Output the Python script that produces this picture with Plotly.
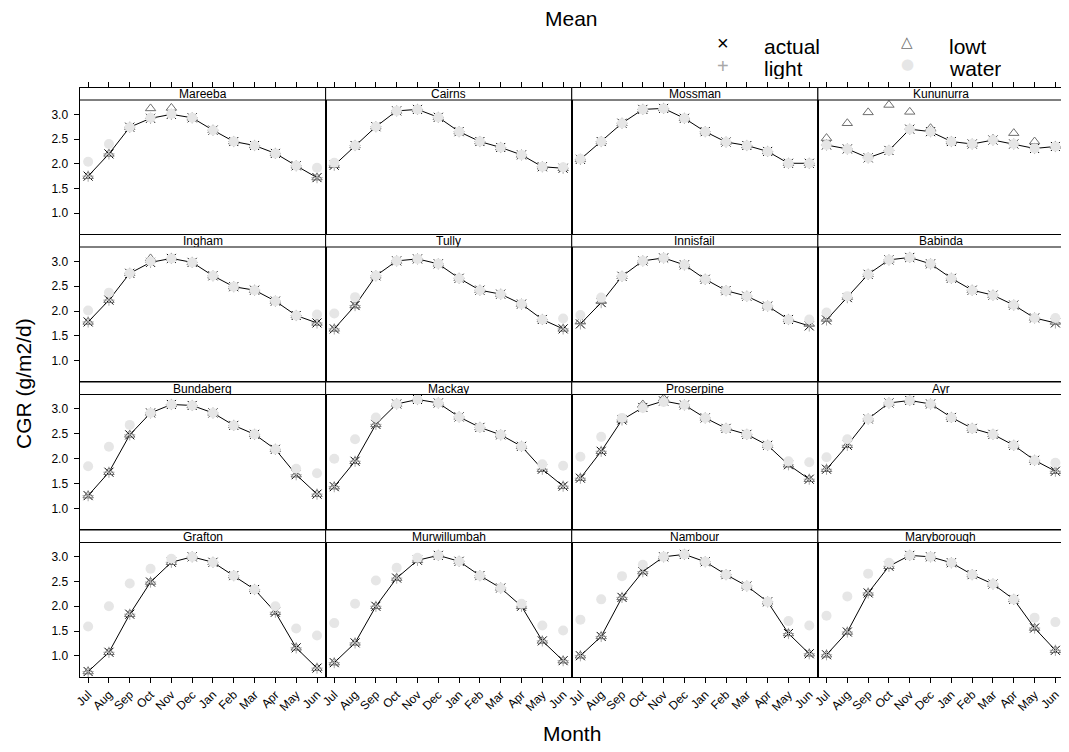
import plotly.graph_objects as go

# ---------------- data ----------------
months = ["Jul", "Aug", "Sep", "Oct", "Nov", "Dec", "Jan", "Feb", "Mar", "Apr", "May", "Jun"]

sites = ["Mareeba", "Cairns", "Mossman", "Kununurra",
         "Ingham", "Tully", "Innisfail", "Babinda",
         "Bundaberg", "Mackay", "Proserpine", "Ayr",
         "Grafton", "Murwillumbah", "Nambour", "Maryborough"]

actual = [
    [1.75, 2.20, 2.74, 2.92, 3.00, 2.93, 2.68, 2.45, 2.37, 2.21, 1.96, 1.72],  # Mareeba
    [1.97, 2.37, 2.75, 3.07, 3.10, 2.94, 2.65, 2.45, 2.33, 2.18, 1.94, 1.91],  # Cairns
    [2.09, 2.45, 2.82, 3.10, 3.12, 2.92, 2.65, 2.44, 2.37, 2.25, 2.01, 2.01],  # Mossman
    [2.38, 2.30, 2.12, 2.27, 2.70, 2.65, 2.45, 2.40, 2.48, 2.40, 2.31, 2.35],  # Kununurra
    [1.78, 2.22, 2.76, 2.98, 3.06, 2.98, 2.71, 2.49, 2.42, 2.20, 1.91, 1.76],  # Ingham
    [1.64, 2.11, 2.71, 3.01, 3.05, 2.95, 2.66, 2.42, 2.34, 2.14, 1.83, 1.64],  # Tully
    [1.74, 2.17, 2.70, 3.01, 3.07, 2.93, 2.64, 2.41, 2.30, 2.10, 1.83, 1.70],  # Innisfail
    [1.82, 2.27, 2.74, 3.03, 3.08, 2.95, 2.66, 2.42, 2.32, 2.12, 1.86, 1.76],  # Babinda
    [1.26, 1.73, 2.48, 2.92, 3.09, 3.07, 2.92, 2.67, 2.49, 2.19, 1.68, 1.29],  # Bundaberg
    [1.44, 1.95, 2.69, 3.10, 3.19, 3.12, 2.84, 2.63, 2.48, 2.25, 1.79, 1.45],  # Mackay
    [1.61, 2.15, 2.78, 3.03, 3.16, 3.08, 2.82, 2.61, 2.49, 2.27, 1.88, 1.59],  # Proserpine
    [1.79, 2.27, 2.80, 3.12, 3.17, 3.10, 2.83, 2.61, 2.49, 2.27, 1.97, 1.75],  # Ayr
    [0.68, 1.07, 1.84, 2.49, 2.89, 3.00, 2.89, 2.62, 2.34, 1.88, 1.16, 0.75],  # Grafton
    [0.86, 1.26, 2.00, 2.57, 2.93, 3.03, 2.91, 2.62, 2.37, 2.00, 1.30, 0.90],  # Murwillumbah
    [1.00, 1.39, 2.18, 2.70, 3.00, 3.05, 2.90, 2.64, 2.41, 2.09, 1.45, 1.04],  # Nambour
    [1.02, 1.48, 2.27, 2.81, 3.03, 3.00, 2.88, 2.64, 2.45, 2.14, 1.56, 1.11],  # Maryborough
]

light = [
    [1.75, 2.20, 2.74, 2.92, 3.00, 2.93, 2.68, 2.45, 2.37, 2.21, 1.96, 1.72],
    [1.97, 2.37, 2.75, 3.07, 3.10, 2.94, 2.65, 2.45, 2.33, 2.18, 1.94, 1.91],
    [2.09, 2.45, 2.82, 3.10, 3.12, 2.92, 2.65, 2.44, 2.37, 2.25, 2.01, 2.01],
    [2.38, 2.30, 2.12, 2.27, 2.70, 2.65, 2.45, 2.40, 2.48, 2.40, 2.31, 2.35],
    [1.78, 2.22, 2.76, 2.98, 3.06, 2.98, 2.71, 2.49, 2.42, 2.20, 1.91, 1.76],
    [1.64, 2.11, 2.71, 3.01, 3.05, 2.95, 2.66, 2.42, 2.34, 2.14, 1.83, 1.64],
    [1.74, 2.17, 2.70, 3.01, 3.07, 2.93, 2.64, 2.41, 2.30, 2.10, 1.83, 1.70],
    [1.82, 2.27, 2.74, 3.03, 3.08, 2.95, 2.66, 2.42, 2.32, 2.12, 1.86, 1.76],
    [1.26, 1.73, 2.48, 2.92, 3.09, 3.07, 2.92, 2.67, 2.49, 2.19, 1.68, 1.29],
    [1.44, 1.95, 2.69, 3.10, 3.19, 3.12, 2.84, 2.63, 2.48, 2.25, 1.79, 1.45],
    [1.61, 2.15, 2.78, 3.03, 3.16, 3.08, 2.82, 2.61, 2.49, 2.27, 1.88, 1.59],
    [1.79, 2.27, 2.80, 3.12, 3.17, 3.10, 2.83, 2.61, 2.49, 2.27, 1.97, 1.75],
    [0.68, 1.07, 1.84, 2.49, 2.89, 3.00, 2.89, 2.62, 2.34, 1.88, 1.16, 0.75],
    [0.86, 1.26, 2.00, 2.57, 2.93, 3.03, 2.91, 2.62, 2.37, 2.00, 1.30, 0.90],
    [1.00, 1.39, 2.18, 2.70, 3.00, 3.05, 2.90, 2.64, 2.41, 2.09, 1.45, 1.04],
    [1.02, 1.48, 2.27, 2.81, 3.03, 3.00, 2.88, 2.64, 2.45, 2.14, 1.56, 1.11],
]

lowt = [
    [1.75, 2.20, 2.74, 3.12, 3.13, 2.93, 2.68, 2.45, 2.37, 2.21, 1.96, 1.72],
    [1.97, 2.37, 2.75, 3.07, 3.10, 2.94, 2.65, 2.45, 2.33, 2.18, 1.94, 1.91],
    [2.09, 2.45, 2.82, 3.10, 3.12, 2.92, 2.65, 2.44, 2.37, 2.25, 2.01, 2.01],
    [2.52, 2.82, 3.04, 3.19, 3.05, 2.72, 2.45, 2.40, 2.50, 2.62, 2.45, 2.36],
    [1.78, 2.22, 2.76, 3.06, 3.07, 2.98, 2.71, 2.49, 2.42, 2.20, 1.91, 1.76],
    [1.64, 2.11, 2.71, 3.01, 3.05, 2.95, 2.66, 2.42, 2.34, 2.14, 1.83, 1.64],
    [1.79, 2.20, 2.70, 3.01, 3.07, 2.93, 2.64, 2.41, 2.30, 2.10, 1.83, 1.74],
    [1.84, 2.28, 2.74, 3.03, 3.08, 2.95, 2.66, 2.42, 2.32, 2.12, 1.86, 1.78],
    [1.26, 1.73, 2.48, 2.92, 3.09, 3.07, 2.92, 2.67, 2.49, 2.19, 1.68, 1.29],
    [1.44, 1.95, 2.69, 3.10, 3.19, 3.12, 2.84, 2.63, 2.48, 2.25, 1.79, 1.45],
    [1.61, 2.15, 2.78, 3.09, 3.21, 3.08, 2.82, 2.61, 2.49, 2.27, 1.88, 1.59],
    [1.79, 2.27, 2.80, 3.12, 3.17, 3.10, 2.83, 2.61, 2.49, 2.27, 1.97, 1.75],
    [0.68, 1.07, 1.84, 2.49, 2.89, 3.00, 2.89, 2.62, 2.34, 1.88, 1.16, 0.75],
    [0.86, 1.26, 2.00, 2.57, 2.93, 3.03, 2.91, 2.62, 2.37, 2.00, 1.30, 0.90],
    [1.00, 1.39, 2.18, 2.70, 3.00, 3.05, 2.90, 2.64, 2.41, 2.09, 1.45, 1.04],
    [1.02, 1.48, 2.27, 2.81, 3.03, 3.00, 2.88, 2.64, 2.45, 2.14, 1.56, 1.11],
]

water = [
    [2.04, 2.40, 2.74, 2.93, 3.01, 2.93, 2.68, 2.45, 2.37, 2.21, 1.96, 1.92],
    [2.02, 2.37, 2.75, 3.07, 3.10, 2.94, 2.65, 2.45, 2.33, 2.18, 1.94, 1.93],
    [2.10, 2.45, 2.82, 3.10, 3.12, 2.92, 2.65, 2.44, 2.37, 2.25, 2.01, 2.01],
    [2.38, 2.30, 2.12, 2.27, 2.70, 2.65, 2.45, 2.40, 2.48, 2.40, 2.31, 2.35],
    [2.01, 2.37, 2.76, 3.00, 3.06, 2.98, 2.71, 2.49, 2.42, 2.20, 1.91, 1.93],
    [1.95, 2.28, 2.71, 3.01, 3.05, 2.95, 2.66, 2.42, 2.34, 2.14, 1.83, 1.85],
    [1.92, 2.27, 2.70, 3.01, 3.07, 2.93, 2.64, 2.41, 2.30, 2.10, 1.83, 1.83],
    [1.97, 2.30, 2.74, 3.03, 3.08, 2.95, 2.66, 2.42, 2.32, 2.12, 1.86, 1.86],
    [1.85, 2.24, 2.68, 2.92, 3.09, 3.07, 2.92, 2.67, 2.49, 2.19, 1.80, 1.71],
    [2.00, 2.39, 2.83, 3.10, 3.19, 3.12, 2.84, 2.63, 2.48, 2.25, 1.89, 1.86],
    [2.04, 2.44, 2.82, 3.02, 3.14, 3.08, 2.82, 2.61, 2.49, 2.27, 1.95, 1.93],
    [2.03, 2.39, 2.80, 3.12, 3.17, 3.10, 2.83, 2.61, 2.49, 2.27, 1.97, 1.92],
    [1.59, 2.00, 2.46, 2.76, 2.96, 3.00, 2.89, 2.62, 2.34, 2.00, 1.55, 1.41],
    [1.66, 2.05, 2.52, 2.78, 2.98, 3.03, 2.91, 2.62, 2.37, 2.05, 1.61, 1.51],
    [1.73, 2.14, 2.61, 2.84, 3.00, 3.05, 2.90, 2.64, 2.41, 2.09, 1.70, 1.61],
    [1.81, 2.20, 2.66, 2.88, 3.03, 3.00, 2.88, 2.64, 2.45, 2.14, 1.77, 1.68],
]

y_ticks = [1.0, 1.5, 2.0, 2.5, 3.0]

# ---------------- layout geometry (reference page pixels) ----------------
OFF = 8                     # default body margin of the html page
W, H = 1069 - OFF, 752 - 2 * OFF
FONT = "Liberation Sans, Arial, Helvetica, sans-serif"
col_edges = [74, 322, 570, 818, 1066]
row_edges = [87.5, 234.5, 382, 530, 677]
strip_h = 12.5
y_lo, y_hi = 0.57, 3.29
x_rng = [-0.415, 11.415]

C_ACTUAL = "black"
C_LIGHT = "#a8a8a8"
C_LOWT = "#6e6e6e"
C_WATER = "#e6e6e6"


def px_x(p):
    return (p - OFF) / W


def px_y(p):
    return 1 - (p - OFF) / H


fig = go.Figure()
layout = {}
shapes = []
annotations = []

for i, site in enumerate(sites):
    r, c = divmod(i, 4)
    k = i + 1
    xn = "x" if k == 1 else f"x{k}"
    yn = "y" if k == 1 else f"y{k}"
    common = dict(xaxis=xn, yaxis=yn, showlegend=False, hoverinfo="x+y+name")

    fig.add_trace(go.Scatter(
        x=months, y=actual[i], name="actual", mode="lines+markers",
        line=dict(color=C_ACTUAL, width=1),
        marker=dict(symbol="x-thin-open", size=9, color=C_ACTUAL,
                    line=dict(color=C_ACTUAL, width=1)), **common))
    fig.add_trace(go.Scatter(
        x=months, y=light[i], name="light", mode="markers",
        marker=dict(symbol="cross-thin-open", size=8, color=C_LIGHT,
                    line=dict(color=C_LIGHT, width=1)), **common))
    fig.add_trace(go.Scatter(
        x=months, y=lowt[i], name="lowt", mode="markers",
        marker=dict(symbol="triangle-up-open", size=9, color=C_LOWT,
                    line=dict(color=C_LOWT, width=1)), **common))
    fig.add_trace(go.Scatter(
        x=months, y=water[i], name="water", mode="markers",
        marker=dict(symbol="circle", size=10, color=C_WATER,
                    line=dict(width=0)), **common))

    x0p, x1p = col_edges[c], col_edges[c + 1]
    top_p, bot_p = row_edges[r], row_edges[r + 1]
    row_h = bot_p - top_p
    y_top = y_lo + (y_hi - y_lo) * row_h / (row_h - strip_h)

    xa = dict(domain=[px_x(x0p), px_x(x1p)], anchor=yn, type="category",
              categoryorder="array", categoryarray=months, range=x_rng,
              showline=True, mirror=True, linecolor="black", linewidth=1,
              showgrid=False, zeroline=False, ticklen=5, tickcolor="black",
              tickwidth=1, tickfont=dict(family=FONT, size=12, color="black"))
    if r == 3:
        xa.update(ticks="outside", showticklabels=True, tickangle=-45)
    elif r == 0:
        xa.update(ticks="outside", showticklabels=False, side="top")
    else:
        xa.update(ticks="", showticklabels=False)

    ya = dict(domain=[px_y(bot_p), px_y(top_p)], anchor=xn, range=[y_lo, y_top],
              showline=True, mirror=True, linecolor="black", linewidth=1,
              showgrid=False, zeroline=False, tickvals=y_ticks,
              ticktext=[f"{v:.1f}" for v in y_ticks], ticklen=5,
              tickcolor="black", tickwidth=1,
              tickfont=dict(family=FONT, size=12, color="black"))
    if c == 0:
        ya.update(ticks="outside", showticklabels=True, ticklabelstandoff=3)
    elif c == 3:
        ya.update(ticks="outside", showticklabels=False, side="right")
    else:
        ya.update(ticks="", showticklabels=False)

    layout["xaxis" if k == 1 else f"xaxis{k}"] = xa
    layout["yaxis" if k == 1 else f"yaxis{k}"] = ya

    # strip
    shapes.append(dict(type="rect", xref="paper", yref="paper",
                       x0=px_x(x0p), x1=px_x(x1p),
                       y0=px_y(top_p + strip_h), y1=px_y(top_p),
                       fillcolor="white", line=dict(color="black", width=1),
                       layer="above"))
    annotations.append(dict(xref="paper", yref="paper",
                            x=px_x((x0p + x1p) / 2), y=px_y(top_p + strip_h / 2),
                            text=site, showarrow=False, xanchor="center",
                            yanchor="middle", height=13,
                            font=dict(family=FONT, size=12, color="black")))

# titles
annotations.append(dict(xref="paper", yref="paper", x=px_x(570), y=px_y(18),
                        text="Mean", showarrow=False, xanchor="center",
                        yanchor="middle", height=18,
                        font=dict(family=FONT, size=21, color="black")))
annotations.append(dict(xref="paper", yref="paper", x=px_x(17), y=px_y(383),
                        text="CGR (g/m2/d)", showarrow=False, textangle=-90,
                        xanchor="center", yanchor="middle",
                        font=dict(family=FONT, size=21, color="black")))
annotations.append(dict(xref="paper", yref="paper", x=px_x(570), y=px_y(733),
                        text="Month", showarrow=False, xanchor="center",
                        yanchor="middle", height=18,
                        font=dict(family=FONT, size=21, color="black")))

# legend (key glyphs + labels)
legend_items = [
    ("actual", "\u00d7", C_ACTUAL, "Liberation Sans", 20, 722, 43, 46),
    ("light", "+", C_LIGHT, "Liberation Sans", 20, 722, 66, 68),
    ("lowt", "\u25b3", C_LOWT, "DejaVu Sans", 15, 908, 42, 46),
    ("water", "\u25cf", C_WATER, "DejaVu Sans", 15, 908, 64, 68),
]
for label, glyph, col, gfam, gsize, gx, gy, ty in legend_items:
    annotations.append(dict(xref="paper", yref="paper", x=px_x(gx), y=px_y(gy),
                            text=glyph, showarrow=False, xanchor="center",
                            yanchor="middle", height=16,
                            font=dict(family=gfam, size=gsize, color=col)))
    annotations.append(dict(xref="paper", yref="paper", x=px_x(gx + 40),
                            y=px_y(ty),
                            text=label, showarrow=False, xanchor="left",
                            yanchor="middle", height=22,
                            font=dict(family=FONT, size=21, color="black")))

fig.update_layout(
    width=W, height=H, autosize=False,
    margin=dict(l=0, r=0, t=0, b=0),
    paper_bgcolor="white", plot_bgcolor="white",
    font=dict(family=FONT, color="black"),
    showlegend=False,
    shapes=shapes, annotations=annotations,
    **layout,
)

fig.write_html("out.html")
